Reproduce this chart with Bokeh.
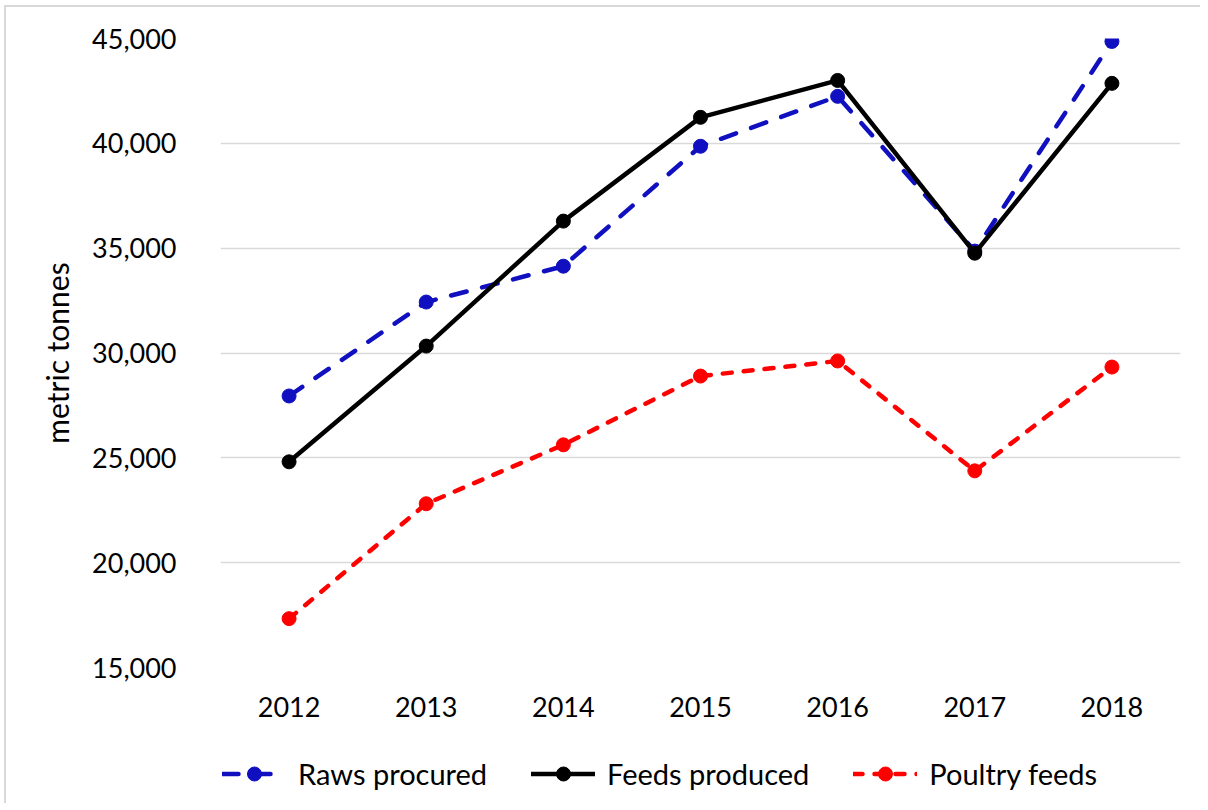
from bokeh.plotting import figure
from bokeh.layouts import column
from bokeh.models import ColumnDataSource, Legend, LegendItem, NumeralTickFormatter, FixedTicker, Range1d, FactorRange
from bokeh.embed import file_html
from bokeh.resources import INLINE

years = ["2012", "2013", "2014", "2015", "2016", "2017", "2018"]
raws_procured = [27950, 32430, 34140, 39860, 42240, 34860, 44860]
feeds_produced = [24810, 30330, 36290, 41240, 43000, 34760, 42860]
poultry_feeds = [17330, 22810, 25620, 28900, 29620, 24380, 29330]
y_ticks = [15000, 20000, 25000, 30000, 35000, 40000, 45000]
series_names = ["Raws procured", "Feeds produced", "Poultry feeds"]

FONT = "Lato"
BLUE = "#1010C0"
RED = "#FF0000"
BLACK = "#000000"
LW = 4.5
MS = 14

src = ColumnDataSource(dict(x=years, raws=raws_procured, feeds=feeds_produced, poultry=poultry_feeds))

p = figure(x_range=years, y_range=Range1d(15000, 45000),
           frame_width=960, frame_height=629,
           output_backend="svg", toolbar_location=None,
           min_border_left=214, min_border_right=20, min_border_top=31, min_border_bottom=60)
p.outline_line_color = None

p.yaxis.ticker = FixedTicker(ticks=y_ticks)
p.yaxis.formatter = NumeralTickFormatter(format="0,0")
p.yaxis.axis_label = "metric tonnes"
p.yaxis.axis_label_text_font = FONT
p.yaxis.axis_label_text_font_style = "normal"
p.yaxis.axis_label_text_font_size = "30px"
p.yaxis.axis_label_text_color = "#000000"
p.yaxis.axis_label_standoff = 14
for ax in (p.xaxis, p.yaxis):
    ax.axis_line_color = None
    ax.major_tick_line_color = None
    ax.minor_tick_line_color = None
    ax.major_label_text_font = FONT
    ax.major_label_text_color = "#000000"
    ax.major_label_text_font_size = "27px"
p.yaxis.major_label_standoff = 38
p.xaxis.major_label_standoff = 23

p.xgrid.grid_line_color = None
p.ygrid.grid_line_color = "#d9d9d9"
p.ygrid.grid_line_width = 1.5
p.ygrid.ticker = FixedTicker(ticks=y_ticks)

styles = [
    dict(line_color=BLUE, line_dash="16 16"),
    dict(line_color=BLACK, line_dash="solid"),
    dict(line_color=RED, line_dash="9 12"),
]
cols = ["raws", "feeds", "poultry"]
for c, st in zip(cols, styles):
    p.line("x", c, source=src, line_width=LW, line_cap="round", **st)
    p.scatter("x", c, source=src, size=MS, fill_color=st["line_color"], line_color=st["line_color"])

# legend strip below the chart (its data lie outside its own view, only the legend shows)
leg_fig = figure(width=1194, height=76, x_range=FactorRange(*years), y_range=Range1d(0, 1),
                 output_backend="svg", toolbar_location=None,
                 min_border_left=0, min_border_right=0, min_border_top=0, min_border_bottom=0)
leg_fig.axis.visible = False
leg_fig.grid.grid_line_color = None
leg_fig.outline_line_color = None
items = []
for name, c, st in zip(series_names, cols, styles):
    lr = leg_fig.line("x", c, source=src, line_width=LW, line_cap="round", **st)
    sr = leg_fig.scatter("x", c, source=src, size=MS, fill_color=st["line_color"], line_color=st["line_color"])
    items.append(LegendItem(label=name, renderers=[lr, sr]))

legend = Legend(items=items, orientation="horizontal", location=(2, 12))
legend.label_text_font = FONT
legend.label_text_font_size = "29px"
legend.label_text_color = "#000000"
legend.glyph_width = 64
legend.glyph_height = 35
legend.label_standoff = 12
legend.spacing = 44
legend.border_line_color = None
legend.background_fill_alpha = 0
legend.margin = 0
legend.padding = 0
leg_fig.add_layout(legend, "center")

layout = column(p, leg_fig, spacing=0)
layout.styles = {"border-left": "2px solid #d9d9d9", "border-top": "2px solid #d9d9d9",
                 "margin-left": "4px", "margin-top": "5px"}

open("out.html", "w").write(file_html(layout, INLINE))
